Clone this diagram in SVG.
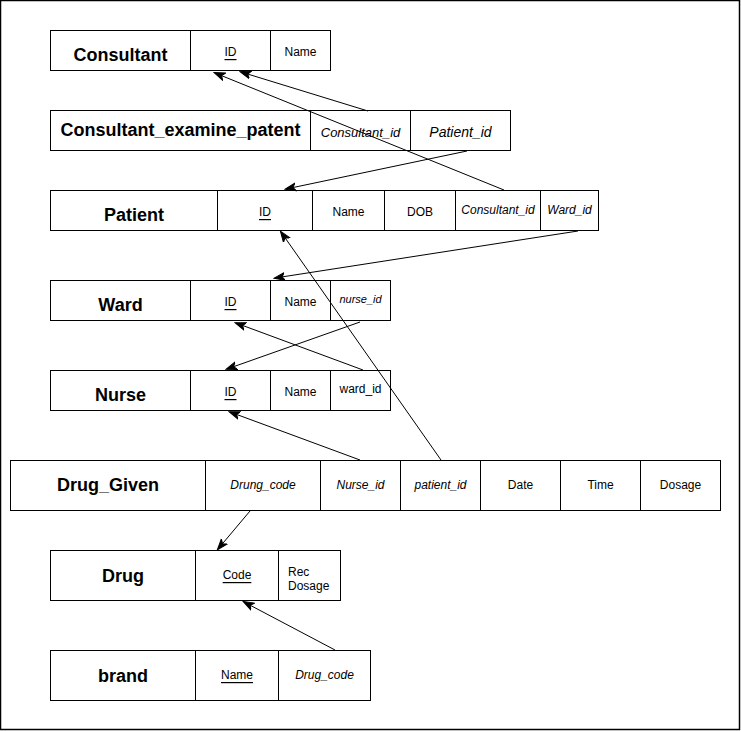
<svg xmlns="http://www.w3.org/2000/svg" width="741" height="731" viewBox="0 0 741 731">
<style>
.b{fill:#fff;stroke:#000;stroke-width:1}
.t{font-family:"Liberation Sans",Arial,sans-serif;font-size:18px;font-weight:bold;fill:#000;text-anchor:middle;dominant-baseline:central}
.c{font-family:"Liberation Sans",Arial,sans-serif;font-size:12px;fill:#000;text-anchor:middle;dominant-baseline:central}
.i{font-style:italic}
.u{text-decoration:underline}
.e{fill:none;stroke:#000;stroke-width:1;marker-end:url(#a)}
</style>
<defs>
<marker id="a" markerUnits="userSpaceOnUse" markerWidth="12" markerHeight="10" viewBox="0 0 12 10" refX="10" refY="5" orient="auto">
<path d="M0,1 L11,5 L0,9 L3,5 Z" fill="#000" stroke="#000" stroke-width="1"/>
</marker>
</defs>
<rect x="0.5" y="0.5" width="739" height="729" fill="#fff" stroke="#000" stroke-width="1.5"/>

<g id="consultant">
<rect class="b" x="50.5" y="30.5" width="140" height="40"/>
<rect class="b" x="190.5" y="30.5" width="80" height="40"/>
<rect class="b" x="270.5" y="30.5" width="60" height="40"/>
<text class="t" x="120.5" y="55">Consultant</text>
<text class="c u" x="230.5" y="52">ID</text>
<text class="c" x="300.5" y="52">Name</text>
</g>

<g id="consultant_examine_patent">
<rect class="b" x="50.5" y="110.5" width="260" height="40"/>
<rect class="b" x="310.5" y="110.5" width="100" height="40"/>
<rect class="b" x="410.5" y="110.5" width="100" height="40"/>
<text class="t" x="180.5" y="130">Consultant_examine_patent</text>
<text class="c i" x="360.5" y="132" style="font-size:13px">Consultant_id</text>
<text class="c i" x="460.5" y="132" style="font-size:14px">Patient_id</text>
</g>

<g id="patient">
<rect class="b" x="50.5" y="190.5" width="167" height="40"/>
<rect class="b" x="217.5" y="190.5" width="95" height="40"/>
<rect class="b" x="312.5" y="190.5" width="72" height="40"/>
<rect class="b" x="384.5" y="190.5" width="71" height="40"/>
<rect class="b" x="455.5" y="190.5" width="85" height="40"/>
<rect class="b" x="540.5" y="190.5" width="58" height="40"/>
<text class="t" x="134" y="215">Patient</text>
<text class="c u" x="265" y="212">ID</text>
<text class="c" x="348.5" y="212">Name</text>
<text class="c" x="420" y="212">DOB</text>
<text class="c i" x="498" y="210">Consultant_id</text>
<text class="c i" x="569.5" y="210">Ward_id</text>
</g>

<g id="ward">
<rect class="b" x="50.5" y="280.5" width="140" height="40"/>
<rect class="b" x="190.5" y="280.5" width="80" height="40"/>
<rect class="b" x="270.5" y="280.5" width="60" height="40"/>
<rect class="b" x="330.5" y="280.5" width="60" height="40"/>
<text class="t" x="120.5" y="305">Ward</text>
<text class="c u" x="230.5" y="302">ID</text>
<text class="c" x="300.5" y="302">Name</text>
<text class="c i" x="360.5" y="299" style="font-size:11px">nurse_id</text>
</g>

<g id="nurse">
<rect class="b" x="50.5" y="370.5" width="140" height="40"/>
<rect class="b" x="190.5" y="370.5" width="80" height="40"/>
<rect class="b" x="270.5" y="370.5" width="60" height="40"/>
<rect class="b" x="330.5" y="370.5" width="60" height="40"/>
<text class="t" x="120.5" y="395">Nurse</text>
<text class="c u" x="230.5" y="392">ID</text>
<text class="c" x="300.5" y="392">Name</text>
<text class="c" x="360.5" y="389">ward_id</text>
</g>

<g id="drug_given">
<rect class="b" x="10.5" y="460.5" width="195" height="50"/>
<rect class="b" x="205.5" y="460.5" width="115" height="50"/>
<rect class="b" x="320.5" y="460.5" width="80" height="50"/>
<rect class="b" x="400.5" y="460.5" width="80" height="50"/>
<rect class="b" x="480.5" y="460.5" width="80" height="50"/>
<rect class="b" x="560.5" y="460.5" width="80" height="50"/>
<rect class="b" x="640.5" y="460.5" width="80" height="50"/>
<text class="t" x="108" y="485">Drug_Given</text>
<text class="c i" x="263" y="485">Drung_code</text>
<text class="c i" x="360.5" y="485">Nurse_id</text>
<text class="c i" x="440.5" y="485">patient_id</text>
<text class="c" x="520.5" y="485">Date</text>
<text class="c" x="600.5" y="485">Time</text>
<text class="c" x="680.5" y="485">Dosage</text>
</g>

<g id="drug">
<rect class="b" x="50.5" y="550.5" width="145" height="50"/>
<rect class="b" x="195.5" y="550.5" width="83" height="50"/>
<rect class="b" x="278.5" y="550.5" width="62" height="50"/>
<text class="t" x="123" y="576">Drug</text>
<text class="c u" x="237" y="575">Code</text>
<text class="c" x="288" y="572" style="text-anchor:start">Rec</text>
<text class="c" x="288" y="586" style="text-anchor:start">Dosage</text>
</g>

<g id="brand">
<rect class="b" x="50.5" y="650.5" width="145" height="50"/>
<rect class="b" x="195.5" y="650.5" width="83" height="50"/>
<rect class="b" x="278.5" y="650.5" width="92" height="50"/>
<text class="t" x="123" y="676">brand</text>
<text class="c u" x="237" y="675">Name</text>
<text class="c i" x="324.5" y="675">Drug_code</text>
</g>

<g id="connectors">
<line class="e" x1="368" y1="111" x2="241" y2="72"/>
<line class="e" x1="504" y1="190" x2="215" y2="73"/>
<line class="e" x1="467" y1="151" x2="286" y2="189"/>
<line class="e" x1="578" y1="231" x2="275" y2="278"/>
<line class="e" x1="360" y1="322" x2="227" y2="369"/>
<line class="e" x1="363" y1="370" x2="236" y2="323"/>
<line class="e" x1="360" y1="460" x2="230" y2="412"/>
<line class="e" x1="441" y1="460" x2="281" y2="232"/>
<line class="e" x1="250" y1="511" x2="218" y2="549"/>
<line class="e" x1="335" y1="650" x2="244" y2="602"/>
</g>
</svg>
